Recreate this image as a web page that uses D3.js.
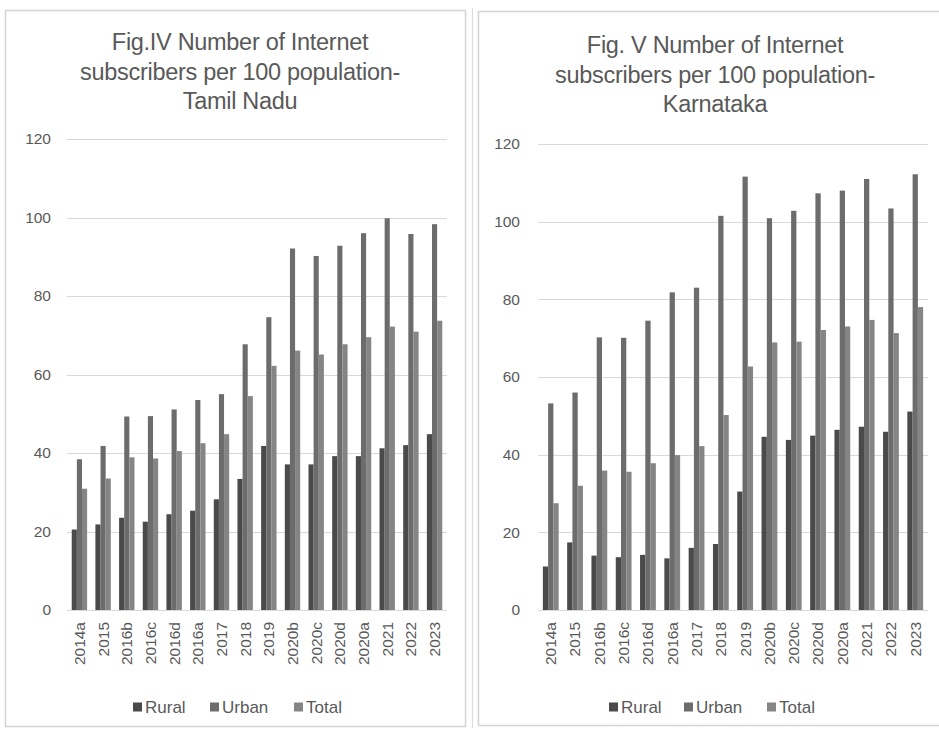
<!DOCTYPE html>
<html>
<head>
<meta charset="utf-8">
<script src="https://cdn.jsdelivr.net/npm/d3@7/dist/d3.min.js"></script>
<style>
  html, body { margin: 0; padding: 0; background: #fff; }
  svg { display: block; }
</style>
</head>
<body>
<svg id="fig" width="939" height="731"></svg>
<script>
// Periods on the x axis (shared by both states)
const categories = ["2014a","2015","2016b","2016c","2016d","2016a","2017","2018","2019",
                    "2020b","2020c","2020d","2020a","2021","2022","2023"];
const seriesNames = ["Rural", "Urban", "Total"];
const yTicks = [0, 20, 40, 60, 80, 100, 120];

// Tamil Nadu: subscribers per 100 population
const tnRural = [20.5, 21.8, 23.5, 22.5, 24.4, 25.3, 28.2, 33.4, 41.8, 37.1, 37.1, 39.2, 39.2, 41.2, 42.0, 44.8];
const tnUrban = [38.4, 41.8, 49.3, 49.4, 51.1, 53.5, 55.0, 67.7, 74.6, 92.1, 90.2, 92.8, 96.0, 99.8, 95.8, 98.3];
const tnTotal = [30.9, 33.5, 38.9, 38.6, 40.5, 42.5, 44.8, 54.5, 62.2, 66.1, 65.1, 67.7, 69.5, 72.2, 70.9, 73.7];

// Karnataka: subscribers per 100 population
const kaRural = [11.2, 17.4, 14.0, 13.6, 14.2, 13.3, 16.0, 17.0, 30.5, 44.6, 43.8, 44.9, 46.4, 47.2, 45.9, 51.1];
const kaUrban = [53.2, 56.0, 70.2, 70.1, 74.5, 81.8, 83.0, 101.5, 111.6, 100.9, 102.8, 107.3, 108.0, 111.0, 103.4, 112.2];
const kaTotal = [27.5, 32.0, 35.9, 35.6, 37.8, 39.9, 42.2, 50.2, 62.7, 68.9, 69.1, 72.1, 73.0, 74.7, 71.3, 78.0];

const colors = { Rural: "#4a4a4a", Urban: "#6c6c6c", Total: "#858585" };
const textColor = "#595959";
const font = "'Liberation Sans', Arial, sans-serif";

const svg = d3.select("#fig");

function drawPanel(cfg) {
  const g = svg.append("g");

  // panel frame
  g.append("rect")
    .attr("x", cfg.frame[0] + 0.5).attr("y", cfg.frame[1] + 0.5)
    .attr("width", cfg.frame[2]).attr("height", cfg.frame[3])
    .attr("fill", "#fff").attr("stroke", "#d4d4d4").attr("stroke-width", 1.5);

  // title
  const title = g.append("text")
    .attr("x", cfg.titleX).attr("y", cfg.titleY)
    .attr("text-anchor", "middle")
    .attr("font-family", font).attr("font-size", 23.5)
    .attr("letter-spacing", "-0.3px")
    .attr("fill", textColor);
  cfg.title.forEach((line, i) => {
    title.append("tspan").attr("x", cfg.titleX).attr("dy", i === 0 ? 0 : 29.5).text(line);
  });

  const y = d3.scaleLinear().domain([0, 120]).range([cfg.y0, cfg.y120]);
  const x0 = d3.scaleBand().domain(categories).range([cfg.xL, cfg.xR])
    .paddingInner(0.35).paddingOuter(0.2);
  const x1 = d3.scaleBand().domain(seriesNames).range([0, x0.bandwidth()]).padding(0);

  // gridlines
  g.append("g").selectAll("line").data(yTicks).join("line")
    .attr("x1", cfg.xL).attr("x2", cfg.xR)
    .attr("y1", d => Math.round(y(d)) + 0.5).attr("y2", d => Math.round(y(d)) + 0.5)
    .attr("stroke", "#d9d9d9").attr("stroke-width", 1.2);

  // y axis labels
  const yAxis = d3.axisLeft(y).tickValues(yTicks).tickSize(0).tickPadding(0);
  g.append("g").attr("transform", `translate(${cfg.yLabelX},0)`).call(yAxis)
    .call(a => a.select(".domain").remove())
    .selectAll("text")
    .attr("font-family", font).attr("font-size", 15.5)
    .attr("fill", textColor);

  // bars
  const values = { Rural: cfg.rural, Urban: cfg.urban, Total: cfg.total };
  const groups = g.append("g").selectAll("g").data(categories).join("g")
    .attr("transform", d => `translate(${x0(d)},0)`);
  groups.selectAll("rect")
    .data((d, i) => seriesNames.map(s => ({ s, v: values[s][i] })))
    .join("rect")
    .attr("x", d => x1(d.s))
    .attr("width", x1.bandwidth())
    .attr("y", d => y(d.v))
    .attr("height", d => y(0) - y(d.v))
    .attr("fill", d => colors[d.s]);

  // x axis labels (rotated)
  const xAxis = d3.axisBottom(x0).tickSize(0).tickPadding(0);
  g.append("g").attr("transform", `translate(0,${cfg.y0})`).call(xAxis)
    .call(a => a.select(".domain").remove())
    .selectAll("text")
    .attr("font-family", font).attr("font-size", 15.5)
    .attr("fill", textColor)
    .attr("transform", "rotate(-90)")
    .attr("text-anchor", "end")
    .attr("x", -12).attr("y", 0).attr("dy", "0.35em");

  // legend
  const leg = g.append("g");
  cfg.legend.forEach((pos, i) => {
    leg.append("rect").attr("x", pos).attr("y", cfg.legendY - 4.5)
      .attr("width", 9).attr("height", 9).attr("fill", colors[seriesNames[i]]);
    leg.append("text").attr("x", pos + 12).attr("y", cfg.legendY)
      .attr("dy", "0.35em")
      .attr("font-family", font).attr("font-size", 17)
      .attr("fill", textColor).text(seriesNames[i]);
  });
}

drawPanel({
  frame: [5, 10, 460, 716],
  title: ["Fig.IV Number of Internet", "subscribers per 100 population-", "Tamil Nadu"],
  titleX: 240, titleY: 50,
  xL: 67, xR: 447, y0: 610, y120: 139, yLabelX: 51,
  rural: tnRural, urban: tnUrban, total: tnTotal,
  legendY: 707, legend: [133, 210, 294]
});

// thin separator line at the right panel's outer edge
svg.append("line").attr("x1", 472.5).attr("x2", 472.5).attr("y1", 8).attr("y2", 728)
  .attr("stroke", "#dcdcdc").attr("stroke-width", 1.2);

drawPanel({
  frame: [478, 11, 470, 714],
  title: ["Fig. V Number of Internet", "subscribers per 100 population-", "Karnataka"],
  titleX: 715, titleY: 53,
  xL: 538, xR: 928, y0: 610, y120: 144, yLabelX: 520,
  rural: kaRural, urban: kaUrban, total: kaTotal,
  legendY: 707, legend: [609, 684, 767]
});
</script>
</body>
</html>
